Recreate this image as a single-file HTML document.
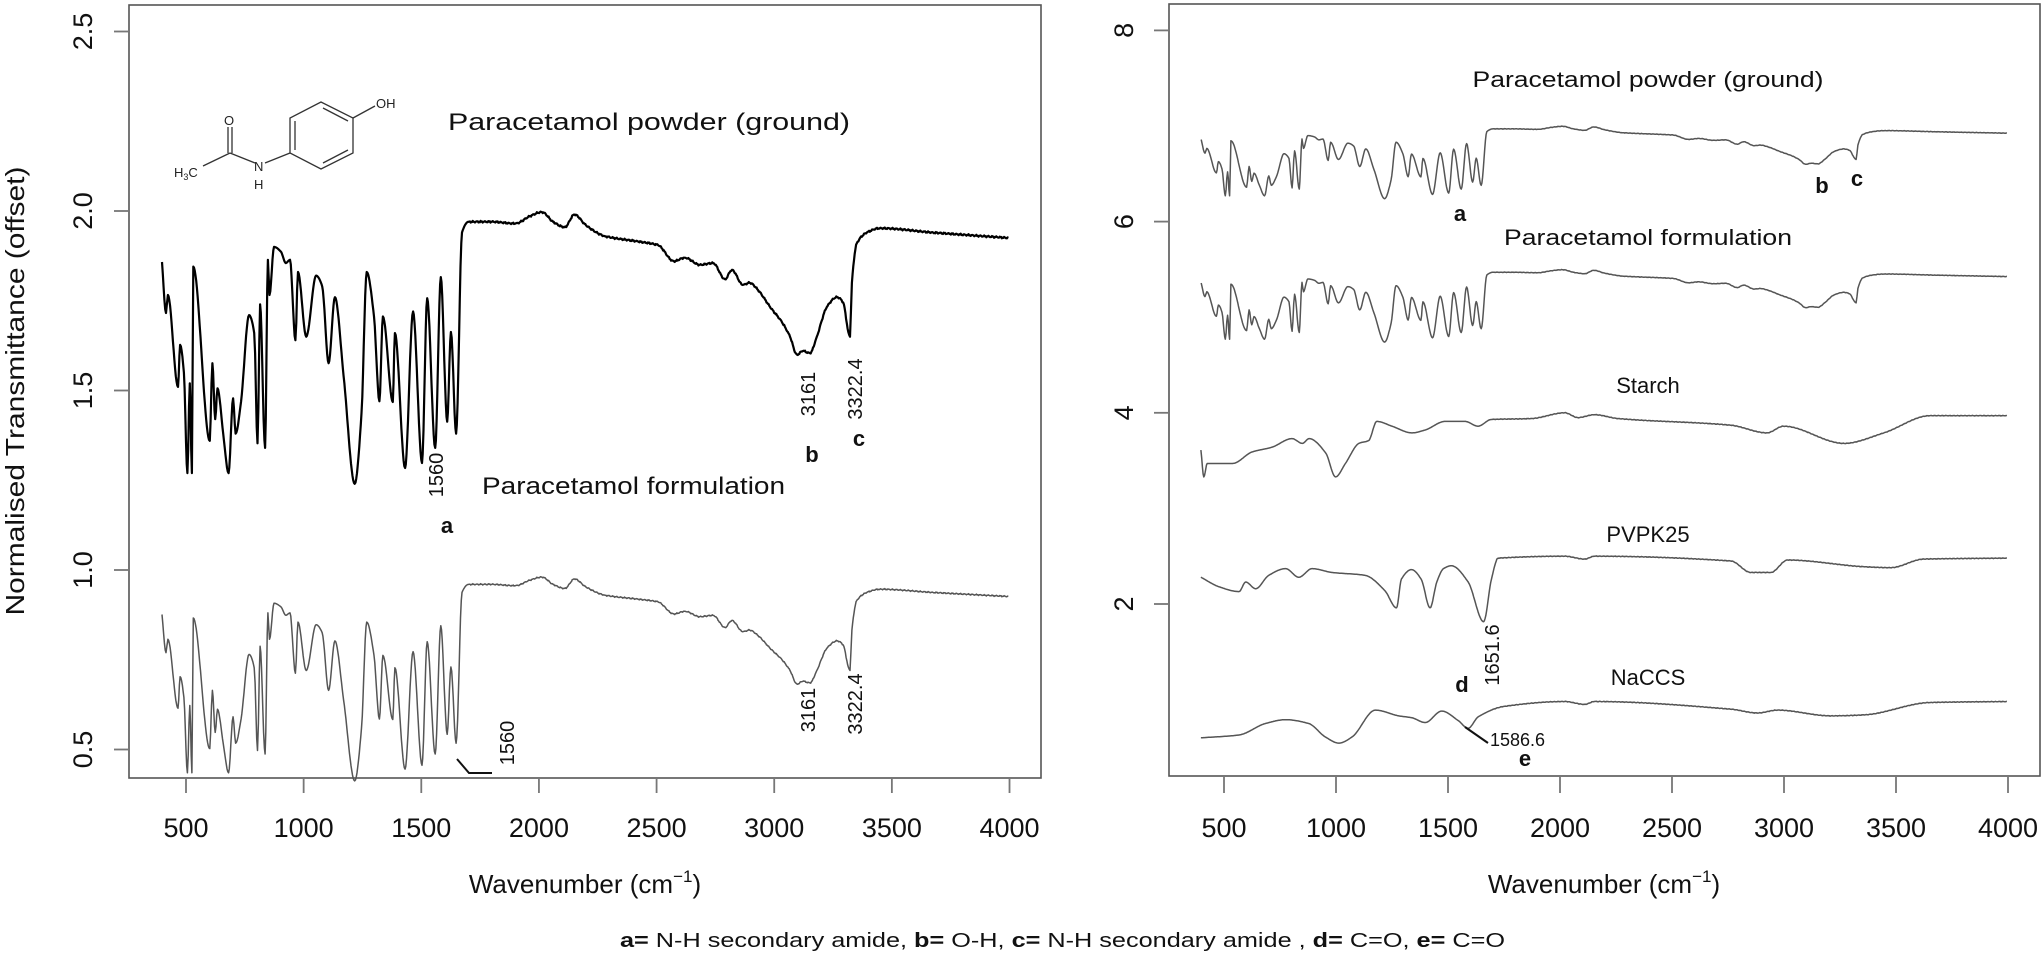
<!DOCTYPE html>
<html><head><meta charset="utf-8"><style>
html,body{margin:0;padding:0;background:#fff;}
svg{display:block;font-family:"Liberation Sans",Arial,sans-serif;}
</style></head><body>
<svg id="s" width="2042" height="955" viewBox="0 0 2042 955" xmlns="http://www.w3.org/2000/svg">
<rect width="2042" height="955" fill="#fff"/>
<rect x="129" y="5" width="912" height="773" fill="none" stroke="#555" stroke-width="1.6"/>
<rect x="1169" y="4" width="871" height="772" fill="none" stroke="#555" stroke-width="1.6"/>
<g id="ticks" stroke="#777" stroke-width="1.8"></g>
<g id="tl" font-size="27" fill="#111" text-anchor="middle"></g>
<g id="series" fill="none" stroke-linejoin="round"></g>

<g stroke="#333" stroke-width="1.3" fill="none">
<line x1="203" y1="166" x2="230" y2="153"/>
<line x1="230" y1="153" x2="255" y2="163"/>
<line x1="228" y1="153" x2="228" y2="127"/>
<line x1="232" y1="153" x2="232" y2="127"/>
<line x1="265" y1="163" x2="290" y2="153"/>
<polygon points="290,153 290,118 321,102 353,118 353,153 321,169"/>
<line x1="295" y1="150" x2="295" y2="121"/>
<line x1="323" y1="108" x2="348" y2="121"/>
<line x1="323" y1="163" x2="348" y2="150"/>
<line x1="353" y1="118" x2="375" y2="106"/>
</g>
<g font-size="13" fill="#222">
<text x="174" y="177">H<tspan font-size="9" dy="3">3</tspan><tspan dy="-3">C</tspan></text>
<text x="224" y="125">O</text>
<text x="254" y="171">N</text>
<text x="254" y="189">H</text>
<text x="376" y="108">OH</text>
</g>

<g fill="#111">
<text x="448" y="130" font-size="24" textLength="402" lengthAdjust="spacingAndGlyphs">Paracetamol powder (ground)</text>
<text x="482" y="494" font-size="24" textLength="303" lengthAdjust="spacingAndGlyphs">Paracetamol formulation</text>
<text transform="translate(443,475) rotate(-90)" font-size="20" text-anchor="middle">1560</text>
<text x="447" y="533" font-size="22" font-weight="bold" text-anchor="middle">a</text>
<text transform="translate(815,394) rotate(-90)" font-size="20" text-anchor="middle">3161</text>
<text transform="translate(862,389) rotate(-90)" font-size="20" text-anchor="middle">3322.4</text>
<text x="812" y="462" font-size="22" font-weight="bold" text-anchor="middle">b</text>
<text x="859" y="446" font-size="22" font-weight="bold" text-anchor="middle">c</text>
<text transform="translate(815,710) rotate(-90)" font-size="20" text-anchor="middle">3161</text>
<text transform="translate(862,704) rotate(-90)" font-size="20" text-anchor="middle">3322.4</text>
<text transform="translate(514,743) rotate(-90)" font-size="20" text-anchor="middle">1560</text>
</g>
<polyline points="457,759 469,773 492,773" fill="none" stroke="#111" stroke-width="2"/>

<g fill="#111" text-anchor="middle">
<text x="1648" y="87" font-size="22" textLength="351" lengthAdjust="spacingAndGlyphs">Paracetamol powder (ground)</text>
<text x="1648" y="245" font-size="22" textLength="288" lengthAdjust="spacingAndGlyphs">Paracetamol formulation</text>
<text x="1648" y="393" font-size="22">Starch</text>
<text x="1648" y="542" font-size="22">PVPK25</text>
<text x="1648" y="685" font-size="22">NaCCS</text>
<text x="1460" y="221" font-size="22" font-weight="bold">a</text>
<text x="1822" y="193" font-size="22" font-weight="bold">b</text>
<text x="1857" y="186" font-size="22" font-weight="bold">c</text>
<text x="1462" y="692" font-size="22" font-weight="bold">d</text>
<text x="1525" y="766" font-size="22" font-weight="bold">e</text>
<text transform="translate(1499,655) rotate(-90)" font-size="20">1651.6</text>
<text x="1490" y="746" font-size="18" text-anchor="start">1586.6</text>
</g>
<line x1="1465" y1="727" x2="1488" y2="743" stroke="#111" stroke-width="2"/>

<g fill="#111" font-size="26" text-anchor="middle">
<text x="585" y="893">Wavenumber (cm<tspan font-size="17" dy="-11">−1</tspan><tspan dy="11">)</tspan></text>
<text x="1604" y="893">Wavenumber (cm<tspan font-size="17" dy="-11">−1</tspan><tspan dy="11">)</tspan></text>
<text transform="translate(24,391) rotate(-90)" textLength="449" lengthAdjust="spacingAndGlyphs">Normalised Transmittance (offset)</text>
</g>
<text x="620" y="947" font-size="20" fill="#111" textLength="885" lengthAdjust="spacingAndGlyphs"><tspan font-weight="bold">a=</tspan> N-H secondary amide, <tspan font-weight="bold">b=</tspan> O-H, <tspan font-weight="bold">c=</tspan> N-H secondary amide , <tspan font-weight="bold">d=</tspan> C=O, <tspan font-weight="bold">e=</tspan>  C=O</text>
</svg>
<script>
(function(){
var NS="http://www.w3.org/2000/svg";
function el(t,a,p){var e=document.createElementNS(NS,t);for(var k in a)e.setAttribute(k,a[k]);if(p)p.appendChild(e);return e;}
var LX=function(w){return 186+(w-500)*0.23529;}, LY=function(v){return 570-(v-1)*359;};
var RX=function(w){return 1224+(w-500)*0.224;}, RY=function(v){return 604-(v-2)*95.6;};
var tk=document.getElementById('ticks'), tl=document.getElementById('tl');
for(var w=500;w<=4000;w+=500){
 el('line',{x1:LX(w),y1:778,x2:LX(w),y2:793},tk);
 el('line',{x1:RX(w),y1:776,x2:RX(w),y2:793},tk);
 el('text',{x:LX(w),y:837},tl).textContent=w;
 el('text',{x:RX(w),y:837},tl).textContent=w;
}
[0.5,1,1.5,2,2.5].forEach(function(v){
 var y=LY(v);el('line',{x1:114,y1:y,x2:129,y2:y},tk);
 el('text',{transform:'translate(92,'+y+') rotate(-90)'},tl).textContent=v.toFixed(1);
});
[2,4,6,8].forEach(function(v){
 var y=RY(v);el('line',{x1:1154,y1:y,x2:1169,y2:y},tk);
 el('text',{transform:'translate(1133,'+y+') rotate(-90)'},tl).textContent=v;
});
var P=[[398,1.858],[415,1.716],[423,1.766],[466,1.51],[475,1.627],[491,1.55],[506,1.27],[516,1.52],[525,1.27],[531,1.845],[601,1.36],[612,1.576],[624,1.42],[634,1.506],[658,1.38],[681,1.27],[700,1.478],[711,1.38],[734,1.47],[768,1.71],[790,1.66],[804,1.353],[815,1.74],[836,1.34],[848,1.864],[855,1.766],[874,1.9],[904,1.886],[924,1.855],[942,1.864],[965,1.64],[976,1.83],[1011,1.65],[1053,1.82],[1079,1.79],[1106,1.576],[1133,1.76],[1170,1.54],[1217,1.24],[1246,1.437],[1268,1.83],[1299,1.706],[1322,1.47],[1337,1.706],[1379,1.468],[1388,1.66],[1431,1.284],[1465,1.72],[1503,1.298],[1525,1.757],[1559,1.34],[1583,1.816],[1610,1.413],[1626,1.663],[1648,1.38],[1673,1.94],[1701,1.97],[1800,1.97],[1900,1.965],[1960,1.985],[2013,1.997],[2060,1.97],[2110,1.955],[2151,1.99],[2200,1.96],[2280,1.93],[2421,1.915],[2506,1.905],[2574,1.86],[2620,1.87],[2684,1.85],[2740,1.855],[2791,1.81],[2820,1.836],[2867,1.794],[2895,1.80],[2931,1.78],[2982,1.733],[3033,1.69],[3067,1.65],[3097,1.60],[3122,1.61],[3152,1.604],[3181,1.65],[3224,1.733],[3267,1.76],[3293,1.745],[3315,1.663],[3322,1.65],[3330,1.80],[3351,1.91],[3394,1.94],[3449,1.952],[3675,1.94],[3995,1.925]];
var ST=[[397,3.61],[410,3.33],[425,3.47],[538,3.47],[625,3.59],[714,3.64],[804,3.73],[850,3.68],[880,3.73],[954,3.58],[998,3.33],[1042,3.47],[1102,3.68],[1146,3.71],[1182,3.91],[1250,3.86],[1339,3.79],[1398,3.82],[1487,3.91],[1576,3.91],[1634,3.86],[1693,3.93],[1873,3.94],[2021,4.0],[2080,3.95],[2154,3.98],[2258,3.94],[2763,3.87],[2924,3.79],[2998,3.86],[3268,3.68],[3446,3.79],[3652,3.97],[3995,3.97]];
var PV=[[397,2.28],[478,2.18],[567,2.13],[597,2.23],[641,2.16],[700,2.30],[775,2.37],[834,2.28],[893,2.37],[982,2.33],[1129,2.30],[1218,2.14],[1270,1.96],[1292,2.26],[1337,2.36],[1380,2.26],[1420,1.96],[1450,2.23],[1480,2.37],[1515,2.40],[1590,2.23],[1659,1.815],[1694,2.26],[1724,2.48],[2021,2.50],[2110,2.47],[2154,2.50],[2763,2.45],[2852,2.33],[2941,2.33],[3016,2.46],[3357,2.39],[3476,2.38],[3624,2.47],[3995,2.48]];
var NA=[[397,0.60],[567,0.63],[685,0.75],[775,0.79],[878,0.75],[952,0.61],[1013,0.545],[1072,0.61],[1176,0.89],[1280,0.83],[1339,0.81],[1398,0.76],[1472,0.88],[1546,0.78],[1590,0.70],[1635,0.82],[1753,0.93],[2021,0.98],[2110,0.95],[2154,0.98],[2763,0.90],[2882,0.86],[2971,0.89],[3209,0.83],[3357,0.84],[3654,0.97],[3995,0.98]];
function dense(K,noise){
 var n=K.length,d=[],m=[];
 for(var i=0;i<n-1;i++)d.push((K[i+1][1]-K[i][1])/(K[i+1][0]-K[i][0]));
 m[0]=d[0];m[n-1]=d[n-2];
 for(i=1;i<n-1;i++){ if(d[i-1]*d[i]<=0)m[i]=0; else m[i]=2/(1/d[i-1]+1/d[i]); }
 var out=[];
 for(i=0;i<n-1;i++){
  var x0=K[i][0],x1=K[i+1][0],y0=K[i][1],y1=K[i+1][1],h=x1-x0,ns=Math.max(1,Math.floor(h/3));
  for(var j=0;j<ns;j++){var t=j/ns,t2=t*t,t3=t2*t,w=x0+h*t;
   var v=(2*t3-3*t2+1)*y0+(t3-2*t2+t)*h*m[i]+(-2*t3+3*t2)*y1+(t3-t2)*h*m[i+1];
   if(w>1700&&j>0) v+=noise*(Math.sin(w*0.37)+0.7*Math.sin(w*1.13+1));
   out.push([w,v]);}
 }
 out.push(K[n-1]);return out;
}
var sg=document.getElementById('series');
function draw(pts,fx,fy,fv,col,wd){
 var d=pts.map(function(p,i){return (i?'L':'M')+fx(p[0]).toFixed(1)+','+fy(fv(p[1])).toFixed(1);}).join('');
 el('path',{d:d,stroke:col,'stroke-width':wd},sg);
}
var pd=dense(P,0.0015);
draw(pd,LX,LY,function(v){return v;},'#000',2.2);
draw(pd,LX,LY,function(v){return 0.96-(1.97-v)*0.75;},'#555',1.5);
draw(pd,RX,RY,function(v){return v+5.0;},'#555',1.5);
draw(pd,RX,RY,function(v){return v+3.5;},'#555',1.5);
draw(dense(ST,0.002),RX,RY,function(v){return v;},'#555',1.5);
draw(dense(PV,0.002),RX,RY,function(v){return v;},'#555',1.5);
draw(dense(NA,0.002),RX,RY,function(v){return v;},'#555',1.5);
})();
</script>
</body></html>
